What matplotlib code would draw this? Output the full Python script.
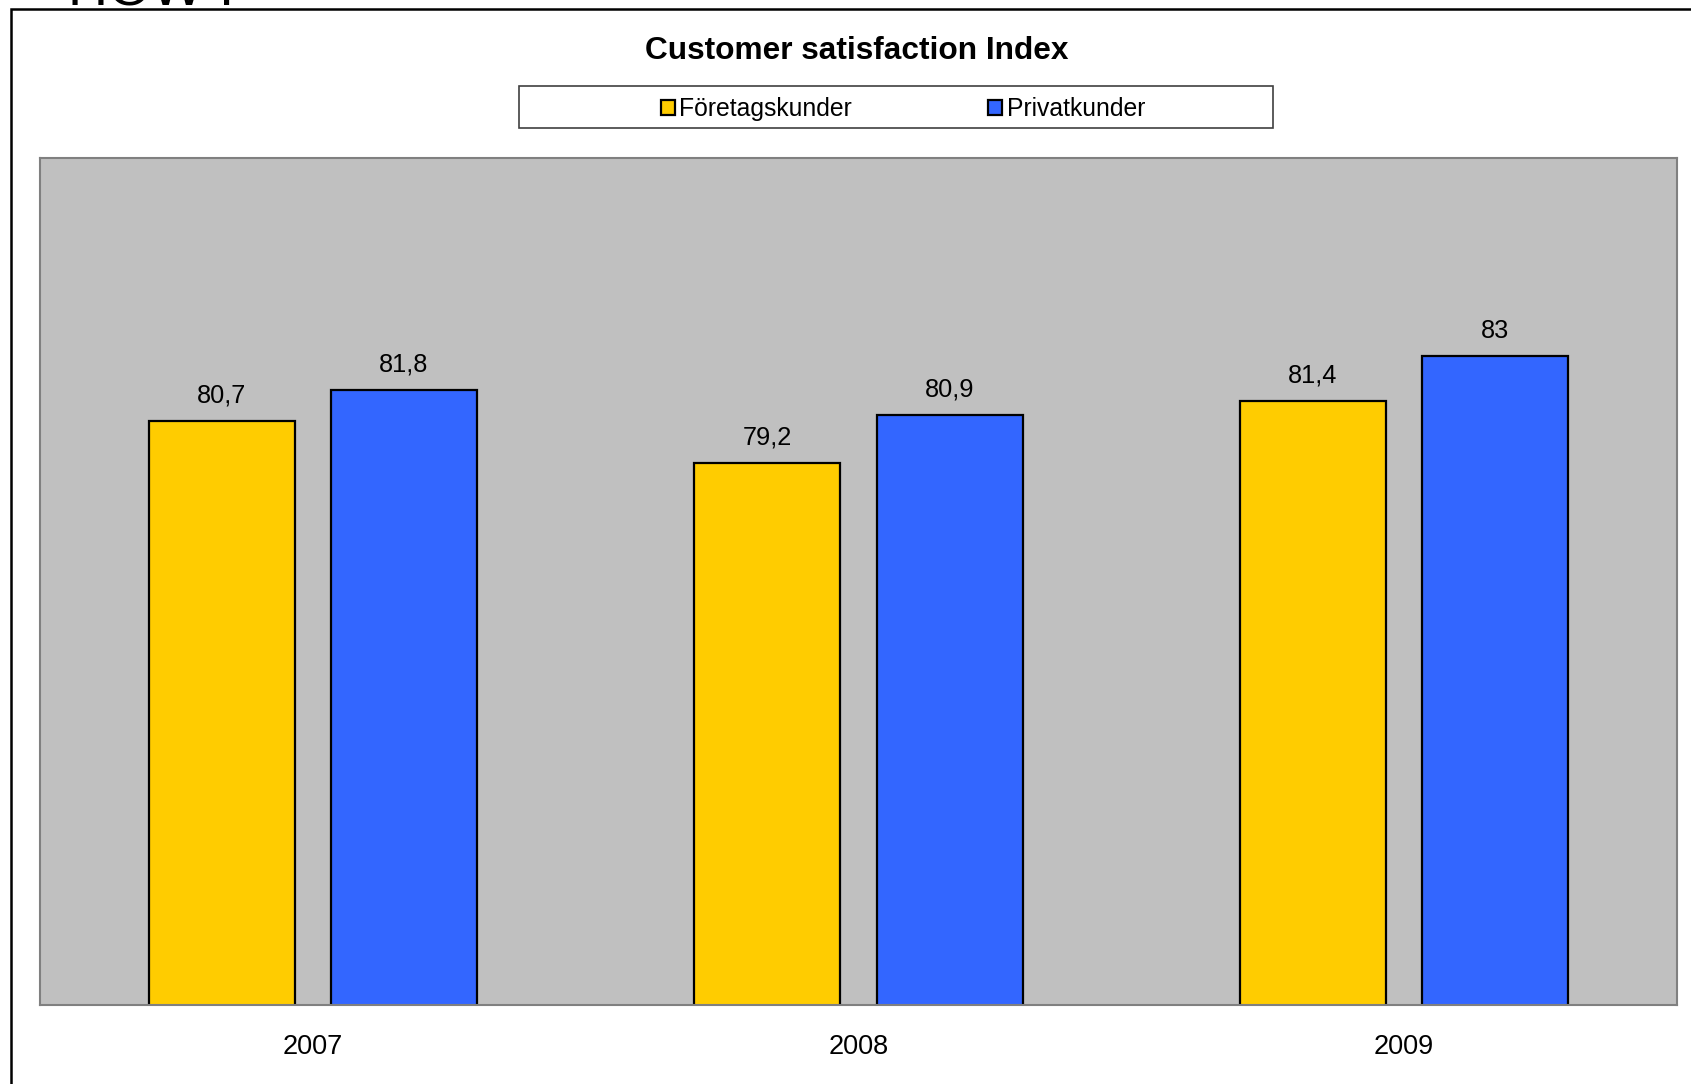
import numpy as np
import matplotlib
matplotlib.use("Agg")
from matplotlib import pyplot as plt
from matplotlib.patches import Rectangle

plt.rcParams['font.family'] = ['Liberation Sans', 'DejaVu Sans']

years = ["2007", "2008", "2009"]
foretag = [80.7, 79.2, 81.4]
privat = [81.8, 80.9, 83.0]
series_names = ["Företagskunder", "Privatkunder"]

W, H = 1691, 1084
fig = plt.figure(figsize=(W / 100, H / 100), dpi=100)

# yttre ram (bara vänster och överkant syns)
fig.patches.append(Rectangle((11 / W, -0.2), 2, 1.2 - 9 / H, transform=fig.transFigure,
                             fill=False, edgecolor="black", linewidth=1.8))
# avklippt text överst
fig.text(68 / W, 1 - 6 / H, "HOW I", fontsize=40, va="baseline", ha="left")

ax = fig.add_axes([40 / W, (H - 1005) / H, 1637 / W, 847 / H])
ax.set_facecolor("#C0C0C0")
for s in ax.spines.values():
  s.set_color("#808080")
  s.set_linewidth(1.5)

x = np.arange(len(years))
bw = 0.2675
off = 0.167
b1 = ax.bar(x - off, foretag, bw, color="#FFCC00", edgecolor="black", linewidth=1.6, label=series_names[0])
b2 = ax.bar(x + off, privat, bw, color="#3366FF", edgecolor="black", linewidth=1.6, label=series_names[1])

def fmt(v):
  s = ("%.1f" % v).rstrip("0").rstrip(".")
  return s.replace(".", ",")

for bars, vals in ((b1, foretag), (b2, privat)):
  for r, v in zip(bars, vals):
    ax.annotate(fmt(v), (r.get_x() + r.get_width() / 2, v), xytext=(0, 13),
                textcoords="offset points", ha="center", va="baseline", fontsize=18.3)

ax.set_xlim(-0.5, 2.5)
ax.set_ylim(60, 90)
ax.set_xticks(x)
ax.set_xticklabels(years, fontsize=19.5)
ax.tick_params(axis="x", length=0, pad=21)
ax.set_yticks([])

fig.text(857 / W, 1 - 51 / H, "Customer satisfaction Index", fontsize=22.8, weight="bold",
         ha="center", va="center")

# legend
fig.patches.append(Rectangle((519 / W, 1 - 128 / H), 754 / W, 42 / H, transform=fig.transFigure,
                             facecolor="white", edgecolor="#404040", linewidth=1.2))
fig.legend(handles=[b1, b2], labels=series_names, loc="center", bbox_to_anchor=(903 / W, 1 - 109 / H),
           ncol=2, frameon=False, fontsize=17.8, handlelength=0.55, handleheight=0.55,
           handletextpad=0.2, columnspacing=5.5)

plt.savefig("out.png", dpi=100)
